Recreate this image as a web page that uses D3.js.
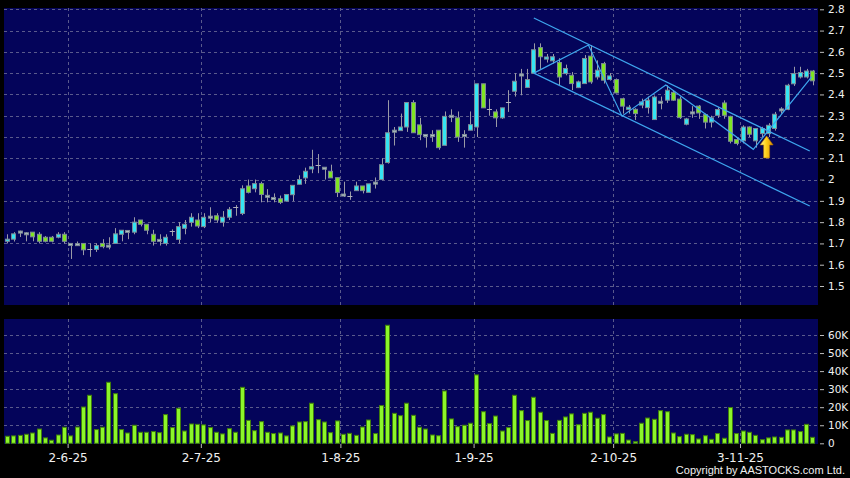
<!DOCTYPE html>
<html>
<head>
<meta charset="utf-8">
<script src="https://cdn.jsdelivr.net/npm/d3@7"></script>
<style>
  body { margin: 0; background: #000; }
  #chart { width: 850px; height: 478px; }
  text { font-family: "DejaVu Sans", Verdana, sans-serif; fill: #f0f0f0; }
</style>
</head>
<body>
<div id="chart"></div>
<script>
// daily candles, oldest first (price in HKD)
const opens = [1.71,1.72,1.755,1.75,1.753,1.743,1.729,1.729,1.729,1.743,
  1.70,1.699,1.70,1.672,1.672,1.70,1.69,1.70,1.743,1.758,
  1.753,1.81,1.79,1.743,1.717,1.70,1.758,1.719,1.771,1.799,
  1.81,1.779,1.826,1.83,1.80,1.823,1.871,1.841,1.97,1.957,
  1.981,1.926,1.916,1.91,1.899,1.929,1.978,2.008,2.05,2.07,
  2.058,2.039,2.009,1.932,1.925,1.948,1.97,1.94,1.983,2.0,
  2.08,2.228,2.23,2.247,2.362,2.257,2.212,2.212,2.232,2.161,
  2.298,2.29,2.212,2.232,2.247,2.45,2.33,2.318,2.29,2.363,
  2.415,2.49,2.433,2.5,2.62,2.566,2.558,2.55,2.498,2.49,
  2.432,2.451,2.58,2.482,2.545,2.47,2.47,2.38,2.33,2.33,
  2.35,2.338,2.282,2.368,2.373,2.41,2.378,2.26,2.318,2.345,
  2.305,2.27,2.302,2.36,2.297,2.188,2.182,2.247,2.182,2.216,
  2.216,2.24,2.327,2.33,2.45,2.482,2.482,2.51];
const highs = [1.743,1.753,1.76,1.753,1.753,1.753,1.735,1.735,1.753,1.753,
  1.70,1.709,1.70,1.70,1.70,1.72,1.729,1.772,1.762,1.762,
  1.823,1.81,1.79,1.764,1.743,1.743,1.766,1.80,1.81,1.842,
  1.842,1.842,1.87,1.842,1.852,1.871,1.88,1.973,2.0,2.0,
  1.99,1.955,1.935,1.925,1.93,1.973,2.02,2.056,2.14,2.12,
  2.058,2.07,2.009,1.99,1.944,1.99,1.97,1.98,2.01,2.1,
  2.373,2.247,2.31,2.362,2.373,2.29,2.212,2.232,2.232,2.32,
  2.33,2.32,2.232,2.32,2.45,2.45,2.38,2.33,2.337,2.42,
  2.5,2.52,2.52,2.64,2.64,2.59,2.59,2.57,2.54,2.505,
  2.465,2.585,2.632,2.56,2.553,2.5,2.475,2.385,2.35,2.335,
  2.38,2.39,2.395,2.39,2.443,2.42,2.39,2.29,2.345,2.35,
  2.31,2.3,2.34,2.372,2.30,2.2,2.255,2.25,2.24,2.248,
  2.265,2.318,2.34,2.45,2.53,2.53,2.52,2.515];
const lows = [1.70,1.709,1.73,1.71,1.71,1.70,1.705,1.705,1.724,1.70,
  1.627,1.69,1.645,1.637,1.66,1.677,1.672,1.70,1.71,1.72,
  1.743,1.78,1.743,1.69,1.69,1.69,1.735,1.70,1.743,1.779,
  1.772,1.772,1.80,1.797,1.779,1.81,1.83,1.833,1.935,1.94,
  1.893,1.893,1.893,1.885,1.899,1.899,1.978,1.98,2.03,2.03,
  2.0,2.008,1.918,1.918,1.905,1.948,1.935,1.94,1.958,1.997,
  2.075,2.16,2.23,2.224,2.22,2.185,2.15,2.177,2.14,2.161,
  2.27,2.177,2.15,2.232,2.2,2.337,2.30,2.247,2.285,2.318,
  2.39,2.396,2.433,2.5,2.52,2.55,2.545,2.443,2.49,2.42,
  2.43,2.451,2.45,2.47,2.451,2.465,2.405,2.31,2.31,2.28,
  2.335,2.31,2.28,2.33,2.36,2.37,2.285,2.255,2.29,2.285,
  2.24,2.245,2.29,2.286,2.17,2.161,2.17,2.2,2.15,2.2,
  2.2,2.23,2.31,2.326,2.44,2.475,2.475,2.443];
const closes = [1.72,1.745,1.758,1.749,1.731,1.71,1.71,1.71,1.743,1.71,
  1.698,1.697,1.67,1.672,1.69,1.685,1.692,1.745,1.762,1.761,
  1.80,1.79,1.762,1.71,1.719,1.729,1.758,1.779,1.79,1.823,
  1.782,1.823,1.828,1.81,1.823,1.86,1.871,1.957,1.94,1.981,
  1.93,1.924,1.914,1.893,1.93,1.973,2.0,2.039,2.06,2.07,
  2.053,2.008,1.939,1.928,1.925,1.97,1.948,1.98,1.988,2.07,
  2.22,2.232,2.247,2.362,2.22,2.211,2.208,2.208,2.15,2.297,
  2.302,2.2,2.208,2.258,2.45,2.337,2.33,2.29,2.337,2.363,
  2.462,2.496,2.47,2.61,2.577,2.576,2.577,2.482,2.522,2.451,
  2.459,2.569,2.459,2.514,2.467,2.487,2.407,2.345,2.34,2.31,
  2.365,2.373,2.388,2.362,2.42,2.373,2.291,2.285,2.314,2.313,
  2.27,2.29,2.329,2.302,2.18,2.17,2.247,2.213,2.24,2.24,
  2.255,2.307,2.332,2.443,2.498,2.503,2.51,2.464];
// daily volume, thousands of shares
const volumes = [3.9,4.1,4.4,5.0,5.7,7.9,3.0,1.7,4.6,8.9,
  4.1,9.0,20.1,26.6,7.6,8.9,33.8,27.5,7.6,5.7,
  10.0,6.1,6.1,6.5,5.9,15.9,8.7,19.4,6.8,10.7,
  10.5,10.2,8.7,6.1,5.2,8.1,6.1,31.0,12.7,7.0,
  12.0,6.1,5.4,5.7,4.1,9.6,11.8,12.0,22.2,13.1,
  11.8,5.9,12.4,5.0,5.5,4.4,9.0,12.9,5.4,20.9,
  65.4,16.6,15.3,22.2,15.5,8.9,7.9,4.6,4.2,29.0,
  13.5,9.2,10.0,11.1,37.9,17.5,10.9,15.1,6.8,8.7,
  26.6,18.1,12.6,25.5,17.2,12.6,5.5,12.7,14.6,16.3,
  10.3,16.6,17.2,13.9,15.9,3.5,5.2,5.5,1.8,0.9,
  11.1,14.0,13.3,18.1,17.5,5.7,3.7,5.0,4.8,2.4,
  4.2,2.2,5.4,2.8,19.8,5.4,6.8,6.1,4.4,2.0,
  3.0,3.5,3.3,7.4,7.4,6.5,10.5,3.3];

const tickLabels = ["2-6-25", "2-7-25", "1-8-25", "1-9-25", "2-10-25", "3-11-25"];
const tickBars = [9, 30, 52, 73, 95, 115];
const priceTicks = [1.5, 1.6, 1.7, 1.8, 1.9, 2.0, 2.1, 2.2, 2.3, 2.4, 2.5, 2.6, 2.7, 2.8];
const volumeTicks = [0, 10, 20, 30, 40, 50, 60];

// drawn trend lines: [bar index, price]
const channelUpper = [[83, 2.759], [126.5, 2.134]];
const channelLower = [[83, 2.50], [126.5, 1.876]];
const zigzag = [[83, 2.50], [91.6, 2.632], [96.9, 2.298], [103.8, 2.444], [117.6, 2.142], [126.8, 2.482]];
const arrowMark = [119.7, 2.205];

const W = 850, H = 478;
const svg = d3.select("#chart").append("svg")
  .attr("width", W).attr("height", H)
  .attr("viewBox", [0, 0, W, H]);

const panelLeft = 4, panelRight = 818;
const priceTop = 8, priceBottom = 305;
const volTop = 319, volBottom = 444;

const n = opens.length;
const x = d3.scaleBand().domain(d3.range(n))
  .range([4.2, 816.1]).paddingInner(0.2).paddingOuter(0.1);
// continuous version of the same positions (bar centres), for lines and ticks
const xi = d3.scaleLinear().domain([0, n - 1])
  .range([x(0) + x.bandwidth() / 2, x(n - 1) + x.bandwidth() / 2]);

const y = d3.scaleLinear().domain([1.5, 2.8]).range([286, 9.3]);
const yv = d3.scaleLinear().domain([0, 60]).range([443.3, 335]);

const bg = "#04045a";
const gridColor = "#5a5a8c";

// panels
svg.append("rect").attr("x", panelLeft).attr("y", priceTop)
  .attr("width", panelRight - panelLeft).attr("height", priceBottom - priceTop)
  .attr("fill", bg);
svg.append("rect").attr("x", panelLeft).attr("y", volTop)
  .attr("width", panelRight - panelLeft).attr("height", volBottom - volTop)
  .attr("fill", bg);

// gridlines
const grid = svg.append("g").attr("stroke", gridColor).attr("stroke-width", 1)
  .attr("stroke-dasharray", "3,3").attr("shape-rendering", "crispEdges");
grid.selectAll(".hp").data(priceTicks).join("line")
  .attr("x1", panelLeft).attr("x2", panelRight)
  .attr("y1", d => Math.round(y(d)) + 0.5).attr("y2", d => Math.round(y(d)) + 0.5);
grid.selectAll(".hv").data(volumeTicks.slice(1)).join("line")
  .attr("x1", panelLeft).attr("x2", panelRight)
  .attr("y1", d => Math.round(yv(d)) + 0.5).attr("y2", d => Math.round(yv(d)) + 0.5);
tickBars.forEach(b => {
  const gx = Math.round(xi(b + 0.5)) + 0.5;
  grid.append("line").attr("x1", gx).attr("x2", gx).attr("y1", priceTop).attr("y2", priceBottom);
  grid.append("line").attr("x1", gx).attr("x2", gx).attr("y1", volTop).attr("y2", volBottom);
});

// candles
const bars = d3.range(n);
const upColor = "#35e4f2", downColor = "#7fe522", flatColor = "#b4c4c4";
const candles = svg.append("g");
candles.selectAll(".wick").data(bars).join("line")
  .attr("x1", i => Math.round(xi(i)) + 0.5).attr("x2", i => Math.round(xi(i)) + 0.5)
  .attr("y1", i => y(highs[i])).attr("y2", i => y(lows[i]))
  .attr("stroke", "#9a9aa6").attr("stroke-width", 1);
candles.selectAll(".body").data(bars.filter(i => opens[i] !== closes[i])).join("rect")
  .attr("x", i => Math.round(x(i)) + 0.5)
  .attr("width", Math.round(x.bandwidth()) - 1)
  .attr("y", i => y(Math.max(opens[i], closes[i])))
  .attr("height", i => Math.max(2, Math.abs(y(opens[i]) - y(closes[i]))))
  .attr("fill", i => {
    if (Math.abs(closes[i] - opens[i]) < 0.006) return flatColor;
    return closes[i] > opens[i] ? upColor : downColor;
  })
  .attr("stroke", "#7c8a96").attr("stroke-width", 1);
candles.selectAll(".cross").data(bars.filter(i => opens[i] === closes[i])).join("line")
  .attr("x1", i => x(i)).attr("x2", i => x(i) + x.bandwidth())
  .attr("y1", i => Math.round(y(closes[i])) + 0.5).attr("y2", i => Math.round(y(closes[i])) + 0.5)
  .attr("stroke", "#b0b0bc").attr("stroke-width", 1);

// trend lines
const lineColor = "#3ea6ee";
const trend = d3.line().x(d => xi(d[0])).y(d => y(d[1]));
[channelUpper, channelLower, zigzag].forEach(pts => {
  svg.append("path").attr("d", trend(pts))
    .attr("fill", "none").attr("stroke", lineColor).attr("stroke-width", 1.2);
});

// yellow arrow
const defs = svg.append("defs");
const grad = defs.append("linearGradient").attr("id", "arrowGrad")
  .attr("x1", "0").attr("y1", "0").attr("x2", "1").attr("y2", "0");
grad.append("stop").attr("offset", "0%").attr("stop-color", "#fff6a0");
grad.append("stop").attr("offset", "45%").attr("stop-color", "#ffd21a");
grad.append("stop").attr("offset", "100%").attr("stop-color", "#d88a00");
const ax = xi(arrowMark[0]), ay = y(arrowMark[1]);
svg.append("path")
  .attr("d", `M${ax},${ay} L${ax + 6.5},${ay + 9} L${ax + 3},${ay + 9} L${ax + 3},${ay + 22}
              L${ax - 3},${ay + 22} L${ax - 3},${ay + 9} L${ax - 6.5},${ay + 9} Z`)
  .attr("fill", "url(#arrowGrad)").attr("stroke", "#b07000").attr("stroke-width", 0.6);

// volume bars
svg.append("g").selectAll("rect").data(bars).join("rect")
  .attr("x", i => Math.round(x(i)) + 0.5)
  .attr("width", Math.round(x.bandwidth()) - 1)
  .attr("y", i => yv(volumes[i]))
  .attr("height", i => yv(0) - yv(volumes[i]))
  .attr("fill", "#8cf52a").attr("stroke", "#3f7d0c").attr("stroke-width", 1);

// right axes
const priceAxis = svg.append("g").attr("transform", `translate(${panelRight + 2},0)`)
  .call(d3.axisRight(y).tickValues(priceTicks).tickSize(4).tickPadding(4)
    .tickFormat(d => String(+d.toFixed(1))));
const volAxis = svg.append("g").attr("transform", `translate(${panelRight + 2},0)`)
  .call(d3.axisRight(yv).tickValues(volumeTicks).tickSize(4).tickPadding(4)
    .tickFormat(d => d === 0 ? "0" : d + "K"));
[priceAxis, volAxis].forEach(g => {
  g.select(".domain").remove();
  g.selectAll(".tick line").attr("stroke", "#bbbbbb");
  g.selectAll(".tick text").attr("fill", "#f0f0f0")
    .style("font-size", "10.5px").style("font-family", "DejaVu Sans, Verdana, sans-serif");
});

// bottom date axis
const dateAxis = svg.append("g").attr("transform", `translate(0,${volBottom})`)
  .call(d3.axisBottom(xi).tickValues(tickBars.map(b => b + 0.5)).tickSize(4).tickPadding(5)
    .tickFormat((d, i) => tickLabels[i]));
dateAxis.select(".domain").remove();
dateAxis.selectAll(".tick line").attr("stroke", "#bbbbbb");
dateAxis.selectAll(".tick text").attr("fill", "#f0f0f0")
  .style("font-size", "12px").style("font-family", "DejaVu Sans, Verdana, sans-serif");

svg.append("text").attr("x", 845).attr("y", 474).attr("text-anchor", "end")
  .style("font-size", "11px").style("font-family", "Liberation Sans, Arial, sans-serif")
  .text("Copyright by AASTOCKS.com Ltd.");
</script>
</body>
</html>
